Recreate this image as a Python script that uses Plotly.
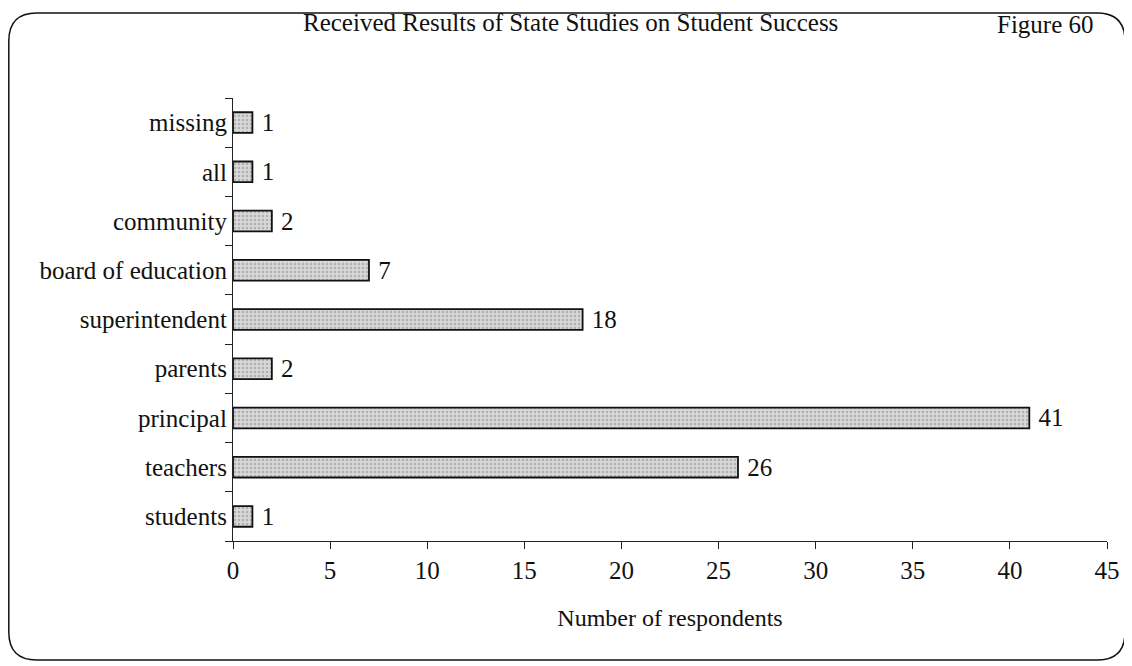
import plotly.graph_objects as go

categories = ["students", "teachers", "principal", "parents", "superintendent",
              "board of education", "community", "all", "missing"]
values = [1, 26, 41, 2, 18, 7, 2, 1, 1]
x_ticks = [0, 5, 10, 15, 20, 25, 30, 35, 40, 45]

# page body has an 8px margin: figure sits at (8,8)
OFF = 8
W, H = 1132 - OFF, 666 - OFF
ML, MR, MT, MB = 225, 25, 90, 125
PW, PH = W - ML - MR, H - MT - MB

def px2paper(px, py):
    # px, py given in reference-screenshot pixels
    fx, fy = px - OFF, py - OFF
    return (fx - ML) / PW, (H - MB - fy) / PH

font_family = "Liberation Serif, Times New Roman, serif"

fig = go.Figure()
fig.add_trace(go.Bar(
    y=categories, x=values, orientation="h",
    marker=dict(color="#d0d0d0", line=dict(color="#111111", width=1.8),
                pattern=dict(shape=".", fgcolor="#888888", bgcolor="#d8d8d8", size=4, solidity=0.3)),
    text=["\u00a0" + str(v) for v in values], textposition="outside",
    constraintext="none",
    textfont=dict(family=font_family, size=25, color="#111"),
    cliponaxis=False,
))

# rounded border
x0, y0, x1, y1, r = 8.8, 13, 1125, 660, 28
def P(px, py):
    a, b = px2paper(px, py)
    return f"{a:.5f},{b:.5f}"
path = (f"M {P(x0+r, y0)} L {P(x1-r, y0)} Q {P(x1, y0)} {P(x1, y0+r)} "
        f"L {P(x1, y1-r)} Q {P(x1, y1)} {P(x1-r, y1)} "
        f"L {P(x0+r, y1)} Q {P(x0, y1)} {P(x0, y1-r)} "
        f"L {P(x0, y0+r)} Q {P(x0, y0)} {P(x0+r, y0)} Z")
fig.add_shape(type="path", path=path, xref="paper", yref="paper",
              line=dict(color="#111", width=1.5), layer="below")

tx, ty = px2paper(570, 22)
fig.add_annotation(text="Received Results of State Studies on Student Success",
                   x=tx, y=ty, xref="paper", yref="paper", showarrow=False,
                   xanchor="center", yanchor="middle",
                   font=dict(family=font_family, size=25, color="#111"))
fx, fy = px2paper(1045, 24)
fig.add_annotation(text="Figure 60", x=fx, y=fy, xref="paper", yref="paper",
                   showarrow=False, xanchor="center", yanchor="middle",
                   font=dict(family=font_family, size=25, color="#111"))

fig.update_layout(
    width=W, height=H,
    margin=dict(l=ML, r=MR, t=MT, b=MB, autoexpand=False),
    paper_bgcolor="white", plot_bgcolor="white",
    bargap=0.58, showlegend=False,
    font=dict(family=font_family, color="#111"),
    xaxis=dict(range=[0, 45], tickvals=x_ticks, ticks="outside", ticklen=7,
               tickcolor="#222", showline=True, linecolor="#222", linewidth=1.2,
               showgrid=False, zeroline=False, automargin=False,
               tickfont=dict(family=font_family, size=25),
               title=dict(text="Number of respondents",
                          font=dict(family=font_family, size=24), standoff=26)),
    yaxis=dict(categoryorder="array", categoryarray=categories,
               ticks="outside", tickson="boundaries", ticklen=7, tickcolor="#222",
               showline=True, linecolor="#222", linewidth=1.2, showgrid=False,
               automargin=False,
               tickfont=dict(family=font_family, size=25)),
)

fig.write_html("out.html")
